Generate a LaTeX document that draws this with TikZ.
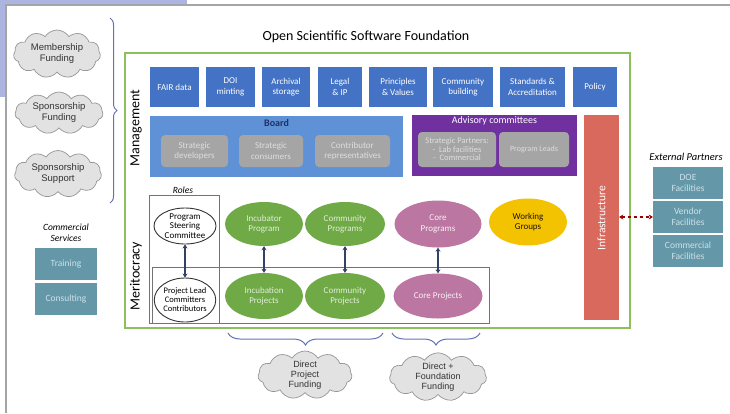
\documentclass[tikz,border=0pt]{standalone}
\usepackage{fontspec}
\setmainfont{Carlito}
\newfontfamily\cloudfont{Liberation Sans}
\usetikzlibrary{shapes.geometric,shapes.symbols,arrows.meta,decorations.pathreplacing}
\definecolor{topblue}{RGB}{68,114,196}
\definecolor{boardblue}{RGB}{95,145,215}
\definecolor{navy}{RGB}{30,50,100}
\definecolor{advpurple}{RGB}{112,48,160}
\definecolor{innergray}{RGB}{165,165,165}
\definecolor{innertext}{RGB}{222,222,222}
\definecolor{infrared}{RGB}{217,105,92}
\definecolor{tealbg}{RGB}{100,152,168}
\definecolor{tealtext}{RGB}{205,225,232}
\definecolor{leafgreen}{RGB}{112,170,70}
\definecolor{leaftext}{RGB}{225,238,215}
\definecolor{corepink}{RGB}{188,118,162}
\definecolor{gold}{RGB}{243,194,0}
\definecolor{framegreen}{RGB}{141,192,90}
\definecolor{arrowslate}{RGB}{50,65,100}
\definecolor{bracecol}{RGB}{100,115,185}
\definecolor{cloudfill}{RGB}{226,226,226}
\definecolor{cloudline}{RGB}{150,150,150}
\definecolor{lavender}{RGB}{172,180,226}
\definecolor{framegray}{RGB}{165,165,165}
\tikzset{
  basebox/.style={inner sep=1pt, align=center, minimum height=40pt},
  topbox/.style={basebox, fill=topblue, text=white, font=\fontsize{9}{10.5}\selectfont},
  innerbox/.style={basebox, fill=innergray, text=innertext, rounded corners=4pt, font=\fontsize{9}{10.5}\selectfont},
  tealbox/.style={basebox, fill=tealbg, text=tealtext, font=\fontsize{9.5}{11}\selectfont},
  ellbase/.style={ellipse, inner sep=0pt, align=center, font=\fontsize{9}{10.5}\selectfont},
  greenell/.style={ellbase, fill=leafgreen, text=leaftext},
  pinkell/.style={ellbase, fill=corepink, text=white!90!corepink},
  goldell/.style={ellbase, fill=gold, text=black!85!brown},
  whiteell/.style={ellbase, draw=black!80, line width=0.9pt, fill=white, text=black},
  cloudy/.style={cloud, cloud puffs=11, cloud puff arc=115, cloud ignores aspect, draw=cloudline, fill=cloudfill, line width=0.7pt, inner sep=0pt, align=center, font=\cloudfont\fontsize{9.5}{11}\selectfont, text=black!80},
  twoarrow/.style={draw=arrowslate, line width=1.3pt, {Stealth[length=4pt,width=5pt]}-{Stealth[length=4pt,width=5pt]}},
  redlink/.style={draw=red!60!black, line width=1.2pt, dashed, {Stealth[length=4pt,width=5pt]}-{Stealth[length=4pt,width=5pt]}},
  bracey/.style={draw=bracecol, line width=1pt, decorate},
  graybox/.style={draw=black!55, line width=0.7pt},
  ital/.style={font=\itshape\fontsize{9.5}{11}\selectfont, align=center}
}
\begin{document}
\begin{tikzpicture}[x=1pt,y=-1pt]
\useasboundingbox (0,0) rectangle (730,413);
\fill[white] (0,0) rectangle (730,413);
% screenshot remnants
\fill[lavender] (0,0) rectangle (187,5);
\fill[lavender] (0,0) rectangle (6,97);
\draw[framegray, line width=1.5pt] (6,413) -- (6,5) -- (730,5);

% title and outer frame
\node[font=\fontsize{14}{16}\selectfont] (title) at (366,37) {Open Scientific Software Foundation};
\draw[framegreen, line width=2pt] (125,53) rectangle (630,328);
\node[rotate=90, font=\fontsize{14}{16}\selectfont] (mgmt) at (136,128) {Management};
\node[rotate=90, font=\fontsize{14}{16}\selectfont] (merit) at (136,276) {Meritocracy};

% top row
\node[topbox, minimum width=49pt] (fair) at (174.5,87) {FAIR data};
\node[topbox, minimum width=49pt] (doi) at (230.5,87) {DOI\\minting};
\node[topbox, minimum width=48pt] (arch) at (286,87) {Archival\\storage};
\node[topbox, minimum width=44pt] (legal) at (340,87) {Legal\\\& IP};
\node[topbox, minimum width=58pt] (princ) at (398,87) {Principles\\\& Values};
\node[topbox, minimum width=60pt] (commb) at (463,87) {Community\\building};
\node[topbox, minimum width=65pt] (stand) at (532.5,87) {Standards \&\\Accreditation};
\node[topbox, minimum width=44pt] (policy) at (595,87) {Policy};

% board
\node[fill=boardblue, minimum width=253pt, minimum height=61pt] (board) at (276.5,146.5) {};
\node[font=\bfseries\fontsize{10}{12}\selectfont, text=navy] (boardt) at (276.5,123) {Board};
\node[innerbox, minimum width=67pt, minimum height=32pt] (sdev) at (194.5,151) {Strategic\\developers};
\node[innerbox, minimum width=64pt, minimum height=32pt] (scon) at (271,151) {Strategic\\consumers};
\node[innerbox, minimum width=75pt, minimum height=32pt] (crep) at (352.5,151) {Contributor\\representatives};

% advisory
\node[fill=advpurple, minimum width=165pt, minimum height=61pt] (adv) at (494.5,145.5) {};
\node[font=\fontsize{10}{12}\selectfont, text=white] (advt) at (494.5,121) {Advisory committees};
\node[innerbox, minimum width=78pt, minimum height=35pt, font=\fontsize{8.5}{9}\selectfont] (sp) at (457,149.5) {Strategic Partners:\\[-0.5pt]{-}\ \ Lab facilities\\[-0.5pt]{-}\ \ Commercial};
\node[innerbox, minimum width=70pt, minimum height=35pt, font=\fontsize{8}{9.5}\selectfont] (pl) at (534,149.5) {Program Leads};

% infrastructure
\node[fill=infrared, minimum width=35pt, minimum height=205pt] (infra) at (601.5,217.5) {};
\node[rotate=90, text=white, font=\fontsize{11.5}{13}\selectfont] (infrat) at (601.5,218) {Infrastructure};

% external partners
\node[ital, font=\itshape\fontsize{10.5}{12}\selectfont] (extp) at (686,157) {External Partners};
\node[tealbox, minimum width=70pt, minimum height=32pt] (dde) at (688,183) {DOE\\Facilities};
\node[tealbox, minimum width=70pt, minimum height=32pt] (vendor) at (688,217) {Vendor\\Facilities};
\node[tealbox, minimum width=70pt, minimum height=32pt] (commf) at (688,251) {Commercial\\Facilities};
\draw[redlink] (infra.east |- vendor.west) -- (vendor.west);

% commercial services
\node[ital] (comserv) at (66,233) {Commercial\\Services};
\node[tealbox, minimum width=62pt, minimum height=32pt] (train) at (66,264) {Training};
\node[tealbox, minimum width=62pt, minimum height=32pt] (consult) at (66,299) {Consulting};

% roles and projects frames
\node[ital] (roles) at (183,190) {Roles};
\draw[graybox] (149,195) rectangle (219,323);
\draw[graybox] (152,267) rectangle (489,323);

% ellipses
\node[whiteell, minimum width=62pt, minimum height=36pt, font=\fontsize{9}{9.5}\selectfont] (psc) at (185,226) {Program\\Steering\\Committee};
\node[whiteell, minimum width=60pt, minimum height=44pt, font=\fontsize{8.5}{9}\selectfont] (plc) at (185,300) {Project Lead\\Committers\\Contributors};
\node[greenell, minimum width=78pt, minimum height=44pt] (incprog) at (264,224) {Incubator\\Program};
\node[greenell, minimum width=80pt, minimum height=44pt] (comprog) at (345,224) {Community\\Programs};
\node[pinkell, minimum width=87pt, minimum height=47pt] (coreprog) at (438,224) {Core\\Programs};
\node[goldell, minimum width=78pt, minimum height=47pt] (wg) at (528,222) {Working\\Groups};
\node[greenell, minimum width=78pt, minimum height=46pt] (incproj) at (264,296) {Incubation\\Projects};
\node[greenell, minimum width=80pt, minimum height=46pt] (comproj) at (345,296) {Community\\Projects};
\node[pinkell, minimum width=89pt, minimum height=45pt] (coreproj) at (438,296) {Core Projects};

\draw[twoarrow] (psc) -- (plc);
\draw[twoarrow] (incprog) -- (incproj);
\draw[twoarrow] (comprog) -- (comproj);
\draw[twoarrow] (coreprog) -- (coreproj);

% clouds
\node[cloudy, minimum width=87pt, minimum height=48pt] (memf) at (57,54) {Membership\\Funding};
\node[cloudy, minimum width=88pt, minimum height=42pt] (spf) at (59,113) {Sponsorship\\Funding};
\node[cloudy, minimum width=87pt, minimum height=47pt] (sps) at (58,174) {Sponsorship\\Support};
\node[cloudy, minimum width=94pt, minimum height=48pt, font=\cloudfont\fontsize{9}{10}\selectfont] (dpf) at (305,375) {Direct\\Project\\Funding};
\node[cloudy, minimum width=97pt, minimum height=48pt, font=\cloudfont\fontsize{9}{10}\selectfont] (dff) at (438,377) {Direct +\\Foundation\\Funding};

% braces
\coordinate (lbtop) at (110,18);
\coordinate (lbbot) at (110,203);
\draw[bracey, decoration={brace, amplitude=7pt}] (lbtop) -- (lbbot);
\coordinate (b1r) at (383,333);
\coordinate (b1l) at (228,333);
\draw[bracey, decoration={brace, amplitude=12pt}] (b1r) -- (b1l);
\coordinate (b2r) at (480,333);
\coordinate (b2l) at (392,333);
\draw[bracey, decoration={brace, amplitude=12pt}] (b2r) -- (b2l);
\end{tikzpicture}
\end{document}
